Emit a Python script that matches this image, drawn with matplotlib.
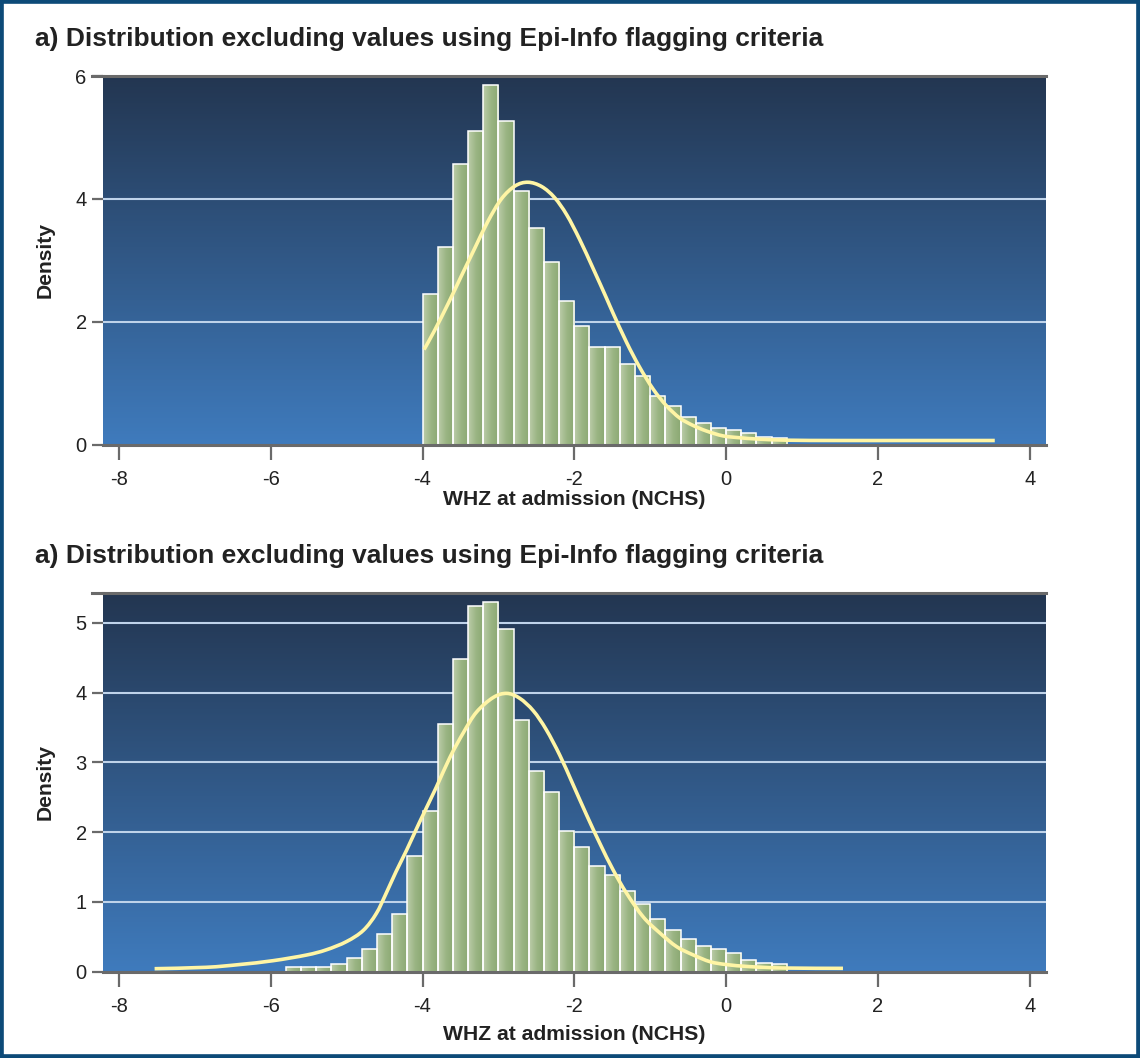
import numpy as np
import matplotlib
matplotlib.use("Agg")
import matplotlib.pyplot as plt
from matplotlib.patches import Rectangle, PathPatch
from matplotlib.path import Path
from matplotlib.lines import Line2D
from matplotlib.colors import LinearSegmentedColormap

plt.rcParams['font.family'] = ['Liberation Sans', 'DejaVu Sans']

# ---------------- data ----------------
title_text = "a) Distribution excluding values using Epi-Info flagging criteria"
x_label = "WHZ at admission (NCHS)"
y_label = "Density"
x_ticks = [-8, -6, -4, -2, 0, 2, 4]
x_tick_labels = ["-8", "-6", "-4", "-2", "0", "2", "4"]
top_y_ticks = [0, 2, 4, 6]
bottom_y_ticks = [0, 1, 2, 3, 4, 5]
bin_width = 0.2

top_bin_starts = [-4.0, -3.8, -3.6, -3.4, -3.2, -3.0, -2.8, -2.6, -2.4, -2.2,
                  -2.0, -1.8, -1.6, -1.4, -1.2, -1.0, -0.8, -0.6, -0.4, -0.2,
                  0.0, 0.2, 0.4, 0.6]
top_heights = [2.45, 3.22, 4.56, 5.10, 5.85, 5.27, 4.13, 3.52, 2.97, 2.34,
               1.93, 1.58, 1.59, 1.31, 1.12, 0.785, 0.62, 0.445, 0.35, 0.27,
               0.23, 0.18, 0.12, 0.11]
top_curve_x = [-3.98, -3.84, -3.66, -3.49, -3.31, -3.14, -2.96, -2.78, -2.61,
               -2.43, -2.26, -2.10, -1.93, -1.75, -1.575, -1.49, -1.31, -1.14,
               -0.96, -0.785, -0.61, -0.435, -0.26, -0.04, 0.18, 0.40, 0.80,
               1.5, 2.5, 3.54]
top_curve_y = [1.545, 1.86, 2.30, 2.74, 3.20, 3.63, 4.00, 4.21, 4.27,
               4.20, 4.02, 3.74, 3.34, 2.86, 2.38, 2.14, 1.66, 1.26,
               0.90, 0.63, 0.43, 0.31, 0.22, 0.14, 0.11, 0.09, 0.07,
               0.065, 0.065, 0.065]

bottom_bin_starts = [-5.8, -5.6, -5.4, -5.2, -5.0, -4.8, -4.6, -4.4, -4.2, -4.0,
                     -3.8, -3.6, -3.4, -3.2, -3.0, -2.8, -2.6, -2.4, -2.2, -2.0,
                     -1.8, -1.6, -1.4, -1.2, -1.0, -0.8, -0.6, -0.4, -0.2, 0.0,
                     0.2, 0.4, 0.6]
bottom_heights = [0.06, 0.06, 0.06, 0.107, 0.19, 0.32, 0.54, 0.83, 1.66, 2.30,
                  3.55, 4.48, 5.25, 5.30, 4.92, 3.61, 2.87, 2.58, 2.02, 1.79,
                  1.51, 1.39, 1.15, 0.965, 0.76, 0.59, 0.47, 0.37, 0.32, 0.26,
                  0.16, 0.12, 0.107]
bottom_curve_x = [-7.53, -6.85, -6.41, -5.97, -5.53, -5.27, -5.00, -4.78, -4.61,
                  -4.48, -4.35, -4.21, -4.04, -3.82, -3.64, -3.46, -3.29, -3.07,
                  -2.89, -2.72, -2.54, -2.37, -2.19, -2.02, -1.84, -1.66, -1.49,
                  -1.31, -1.09, -0.87, -0.65, -0.43, -0.21, 0.0, 0.31, 0.75, 1.54]
bottom_curve_y = [0.04, 0.06, 0.10, 0.155, 0.236, 0.31, 0.43, 0.59, 0.83,
                  1.12, 1.43, 1.74, 2.14, 2.64, 3.07, 3.43, 3.72, 3.93,
                  3.99, 3.92, 3.74, 3.47, 3.10, 2.69, 2.25, 1.83, 1.46,
                  1.12, 0.78, 0.55, 0.355, 0.236, 0.14, 0.10, 0.07, 0.05, 0.045]

# ---------------- style ----------------
W, H = 1140, 1058
DPI = 100
bg_cmap = LinearSegmentedColormap.from_list("bg", ["#233651", "#3f7bbd"])
bar_cmap = LinearSegmentedColormap.from_list("bar", ["#bccdaa", "#9bb584", "#8aa872"])
grid_color = "#bfd3ea"
curve_color = "#fff5a5"
spine_color = "#6a6a6a"
text_color = "#222222"
xlim = (-8.206, 4.215)

fig = plt.figure(figsize=(W / DPI, H / DPI), dpi=DPI)
fig.patch.set_facecolor("white")


def px_to_fig(x, y):
    return x / W, 1 - y / H


def smooth_path(xs, ys):
    """Catmull-Rom curve through the read points, drawn as cubic Bezier segments."""
    P = np.column_stack([xs, ys]).astype(float)
    n = len(P)
    verts = [P[0]]
    codes = [Path.MOVETO]
    for i in range(n - 1):
        p0 = P[i - 1] if i > 0 else P[i]
        p1 = P[i]
        p2 = P[i + 1]
        p3 = P[i + 2] if i + 2 < n else P[i + 1]
        c1 = p1 + (p2 - p0) / 6.0
        c2 = p2 - (p3 - p1) / 6.0
        verts += [c1, c2, p2]
        codes += [Path.CURVE4] * 3
    return Path(verts, codes)


def panel(rect_px, starts, heights, cx, cy, ytop, yticks, title_base, xlabel_base):
    left, top, right, bottom = rect_px
    ax = fig.add_axes([left / W, 1 - bottom / H, (right - left) / W, (bottom - top) / H])
    grad = np.linspace(0, 1, 256).reshape(-1, 1)
    ax.imshow(grad, extent=[xlim[0], xlim[1], 0, ytop], aspect="auto",
              cmap=bg_cmap, zorder=0, interpolation="bicubic")
    for t in yticks:
        if 0 < t < ytop:
            ax.axhline(t, color=grid_color, lw=1.5, zorder=1)
    hgrad = np.linspace(0, 1, 64).reshape(1, -1)
    bars = ax.bar(starts, heights, width=bin_width, align="edge",
                  facecolor="none", edgecolor="white", linewidth=1.1, zorder=3)
    for p in bars.patches:
        x0 = p.get_x()
        ax.imshow(hgrad, extent=[x0, x0 + p.get_width(), 0, p.get_height()],
                  aspect="auto", cmap=bar_cmap, zorder=2, interpolation="bilinear")
    ax.add_patch(PathPatch(smooth_path(cx, cy), fill=False, edgecolor=curve_color,
                           lw=2.6, zorder=4, capstyle="butt"))
    ax.set_xlim(*xlim)
    ax.set_ylim(0, ytop)
    ax.set_xticks(x_ticks)
    ax.set_xticklabels(x_tick_labels)
    ax.set_yticks(yticks)
    ax.set_yticklabels([str(t) for t in yticks])
    for s in ["left", "right"]:
        ax.spines[s].set_visible(False)
    for s in ["top", "bottom"]:
        ax.spines[s].set_color(spine_color)
        ax.spines[s].set_linewidth(2.2)
        ax.spines[s].set_zorder(5)
    ax.add_line(Line2D([-0.0115, 0], [1, 1], transform=ax.transAxes,
                       color=spine_color, lw=2.2, clip_on=False))
    ax.tick_params(axis="x", length=10.5, width=1.6, color=spine_color,
                   labelsize=14.5, labelcolor=text_color, pad=8)
    ax.tick_params(axis="y", length=8, width=1.6, color=spine_color,
                   labelsize=14.5, labelcolor=text_color, pad=4)
    fx, fy = px_to_fig(35, title_base)
    fig.text(fx, fy, title_text, fontsize=19, fontweight="bold",
             color=text_color, ha="left", va="baseline")
    fx, fy = px_to_fig((left + right) / 2, xlabel_base)
    fig.text(fx, fy, x_label, fontsize=15.2, fontweight="bold",
             color=text_color, ha="center", va="baseline")
    fx, fy = px_to_fig(45, (top + bottom) / 2)
    fig.text(fx, fy, y_label, fontsize=15.2, fontweight="bold",
             color=text_color, ha="center", va="center", rotation=90)
    return ax


panel((103.3, 76, 1046, 444.5), top_bin_starts, top_heights,
      top_curve_x, top_curve_y, 6.0, top_y_ticks, 46, 505)
panel((103.3, 593, 1046, 971.5), bottom_bin_starts, bottom_heights,
      bottom_curve_x, bottom_curve_y, 5.43, bottom_y_ticks, 563, 1040)

fig.patches.append(Rectangle((0, 0), 1, 1, transform=fig.transFigure,
                             fill=False, edgecolor="#0d4a78", linewidth=5.5))

fig.savefig("out.png", dpi=DPI)
